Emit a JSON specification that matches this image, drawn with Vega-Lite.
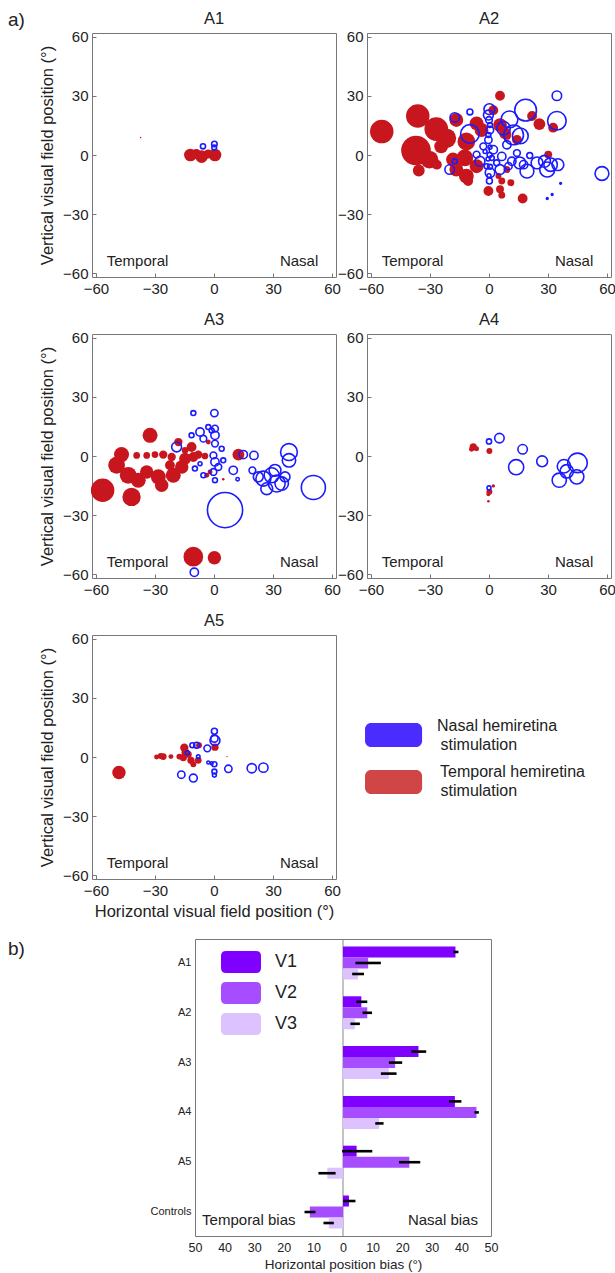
{
  "$schema": "https://vega.github.io/schema/vega-lite/v6.json",
  "background": "white",
  "padding": {"left": 8, "top": 10, "right": 0, "bottom": 0},
  "title": {"text": "a)", "anchor": "start", "frame": "bounds", "fontSize": 19, "fontWeight": "normal", "color": "#222", "offset": 0, "dy": 19},
  "config": {
    "font": "Liberation Sans",
    "view": {"stroke": "#777", "strokeWidth": 1},
    "axis": {"grid": false, "domain": false, "labelColor": "#222", "titleColor": "#222", "titleFontWeight": "normal", "labelFontSize": 15, "titleFontSize": 16.5, "tickColor": "#777", "tickSize": -4, "labelPadding": 8, "labelFlush": false, "labelOverlap": false},
    "title": {"fontSize": 16.5, "fontWeight": "normal", "color": "#222", "offset": 2}
  },
  "resolve": {"scale": {"color": "independent", "size": "independent"}, "legend": {"color": "independent", "size": "independent"}},
  "datasets": {
    "pts": [
      {"p":"A1","h":"T","x":-37.3,"y":8.9,"d":0.8},
      {"p":"A1","h":"T","x":-12,"y":0,"d":6.4},
      {"p":"A1","h":"T","x":-9,"y":0.5,"d":5},
      {"p":"A1","h":"T","x":-6.3,"y":-0.8,"d":6.4},
      {"p":"A1","h":"T","x":-3,"y":0.5,"d":4.5},
      {"p":"A1","h":"T","x":0.5,"y":0,"d":6.4},
      {"p":"A1","h":"N","x":-5.6,"y":4.4,"d":2.6},
      {"p":"A1","h":"N","x":0.2,"y":5.6,"d":2.8},
      {"p":"A1","h":"N","x":0.1,"y":3.8,"d":2.4},

      {"p":"A2","h":"T","x":-54.5,"y":11.9,"d":11.9},
      {"p":"A2","h":"T","x":-36.2,"y":19.8,"d":11.9},
      {"p":"A2","h":"T","x":-37.1,"y":2.3,"d":15},
      {"p":"A2","h":"T","x":-26.8,"y":13.2,"d":12},
      {"p":"A2","h":"T","x":-30.3,"y":-2.3,"d":9},
      {"p":"A2","h":"T","x":-35.7,"y":-7.9,"d":6},
      {"p":"A2","h":"T","x":-26.5,"y":-4.9,"d":5},
      {"p":"A2","h":"T","x":-21.7,"y":8.5,"d":10},
      {"p":"A2","h":"T","x":-24.3,"y":4.4,"d":7},
      {"p":"A2","h":"T","x":-16.6,"y":17.8,"d":7},
      {"p":"A2","h":"T","x":-18.3,"y":-2.3,"d":7},
      {"p":"A2","h":"T","x":-16.6,"y":-7.4,"d":7},
      {"p":"A2","h":"T","x":-11.5,"y":6.9,"d":9},
      {"p":"A2","h":"T","x":-12.3,"y":-1.5,"d":8.5},
      {"p":"A2","h":"T","x":-11.5,"y":-10.7,"d":7.5},
      {"p":"A2","h":"T","x":-10.6,"y":-13.2,"d":5},
      {"p":"A2","h":"T","x":-6.3,"y":-5.7,"d":7},
      {"p":"A2","h":"T","x":-6.3,"y":16.1,"d":7},
      {"p":"A2","h":"T","x":-3.8,"y":12.7,"d":7},
      {"p":"A2","h":"T","x":5.6,"y":30.1,"d":5},
      {"p":"A2","h":"T","x":5.6,"y":15.2,"d":7},
      {"p":"A2","h":"T","x":8.2,"y":11,"d":6},
      {"p":"A2","h":"T","x":2.2,"y":22.8,"d":5},
      {"p":"A2","h":"T","x":-0.3,"y":-18.3,"d":5},
      {"p":"A2","h":"T","x":5.6,"y":-17.4,"d":4},
      {"p":"A2","h":"T","x":6.5,"y":-13.2,"d":3.5},
      {"p":"A2","h":"T","x":6.5,"y":-20.4,"d":3.5},
      {"p":"A2","h":"T","x":11.1,"y":-14.1,"d":3.5},
      {"p":"A2","h":"T","x":17.1,"y":-22.1,"d":5},
      {"p":"A2","h":"T","x":21.9,"y":19.8,"d":5},
      {"p":"A2","h":"T","x":25.6,"y":15.7,"d":6},
      {"p":"A2","h":"T","x":32.6,"y":13.9,"d":5},
      {"p":"A2","h":"T","x":30.1,"y":0.2,"d":4},
      {"p":"A2","h":"T","x":9.1,"y":9.7,"d":4},
      {"p":"A2","h":"T","x":14.2,"y":7.7,"d":5},
      {"p":"A2","h":"T","x":9.1,"y":-7.4,"d":3.5},
      {"p":"A2","h":"T","x":4.8,"y":-10.7,"d":3},
      {"p":"A2","h":"N","x":57.4,"y":-9.4,"d":7},
      {"p":"A2","h":"N","x":34.5,"y":30.1,"d":4.8},
      {"p":"A2","h":"N","x":34.5,"y":17.4,"d":9.4},
      {"p":"A2","h":"N","x":18.6,"y":22.8,"d":11},
      {"p":"A2","h":"N","x":10.4,"y":18.1,"d":8.5},
      {"p":"A2","h":"N","x":12.5,"y":10.2,"d":10},
      {"p":"A2","h":"N","x":15.9,"y":9.7,"d":8},
      {"p":"A2","h":"N","x":-9.7,"y":10.7,"d":9.4},
      {"p":"A2","h":"N","x":-9.7,"y":21.9,"d":3},
      {"p":"A2","h":"N","x":-17.4,"y":19.1,"d":4.8},
      {"p":"A2","h":"N","x":-20,"y":-7.4,"d":4.8},
      {"p":"A2","h":"N","x":-17.4,"y":-3.2,"d":2.5},
      {"p":"A2","h":"N","x":0.2,"y":23.3,"d":5.5},
      {"p":"A2","h":"N","x":-0.3,"y":20.3,"d":5},
      {"p":"A2","h":"N","x":0,"y":17.8,"d":3.4},
      {"p":"A2","h":"N","x":35,"y":-4.9,"d":6},
      {"p":"A2","h":"N","x":28.2,"y":-3.2,"d":6},
      {"p":"A2","h":"N","x":24.4,"y":-4,"d":6},
      {"p":"A2","h":"N","x":29.6,"y":-7.4,"d":7.6},
      {"p":"A2","h":"N","x":31.3,"y":-4.9,"d":6.8},
      {"p":"A2","h":"N","x":19.3,"y":-8.2,"d":7},
      {"p":"A2","h":"N","x":15.6,"y":-4,"d":6},
      {"p":"A2","h":"N","x":11.6,"y":-3.2,"d":4.2},
      {"p":"A2","h":"N","x":20.7,"y":-0.3,"d":3},
      {"p":"A2","h":"N","x":5.6,"y":-7.4,"d":5},
      {"p":"A2","h":"N","x":-4.6,"y":-3.2,"d":5},
      {"p":"A2","h":"N","x":0.5,"y":-9,"d":4.8},
      {"p":"A2","h":"N","x":0.2,"y":-13.2,"d":3},
      {"p":"A2","h":"N","x":2.2,"y":2.7,"d":4.2},
      {"p":"A2","h":"N","x":6.5,"y":-0.7,"d":4.2},
      {"p":"A2","h":"N","x":-2.9,"y":4.4,"d":3.4},
      {"p":"A2","h":"N","x":-0.3,"y":7.7,"d":3.7},
      {"p":"A2","h":"N","x":0.5,"y":12.7,"d":3.7},
      {"p":"A2","h":"N","x":7.4,"y":13.6,"d":6.8},
      {"p":"A2","h":"N","x":9.1,"y":5.2,"d":4.2},
      {"p":"A2","h":"N","x":14.2,"y":1,"d":3.4},
      {"p":"A2","h":"N","x":-6.3,"y":0.2,"d":3.4},
      {"p":"A2","h":"N","x":36.4,"y":-14.4,"d":0.9},
      {"p":"A2","h":"N","x":32.1,"y":-20.1,"d":0.9},
      {"p":"A2","h":"N","x":29.6,"y":-22.1,"d":0.9},
      {"p":"A2","h":"N","x":3.9,"y":-4,"d":3},
      {"p":"A2","h":"N","x":-1.2,"y":-5.7,"d":2.5},
      {"p":"A2","h":"N","x":1.4,"y":-1.5,"d":2.5},
      {"p":"A2","h":"N","x":-2,"y":1.8,"d":2},
      {"p":"A2","h":"N","x":9.9,"y":-5.7,"d":3.7},
      {"p":"A2","h":"N","x":17.6,"y":-4.9,"d":4.2},
      {"p":"A2","h":"N","x":-0.3,"y":10.2,"d":2.5},
      {"p":"A2","h":"N","x":0.5,"y":15.2,"d":2.5},
      {"p":"A2","h":"N","x":0,"y":-10.5,"d":2},
      {"p":"A2","h":"N","x":0.5,"y":-6,"d":2.5},
      {"p":"A2","h":"N","x":-0.5,"y":-2,"d":2},
      {"p":"A2","h":"N","x":0.3,"y":0,"d":2.5},
      {"p":"A2","h":"N","x":0.5,"y":4,"d":2},

      {"p":"A3","h":"T","x":-56.6,"y":-17.4,"d":11.9},
      {"p":"A3","h":"T","x":-41.9,"y":-20.8,"d":9.3},
      {"p":"A3","h":"T","x":-32.5,"y":10.5,"d":7.6},
      {"p":"A3","h":"T","x":-47,"y":0.7,"d":7.6},
      {"p":"A3","h":"T","x":-49.5,"y":-4.7,"d":8.5},
      {"p":"A3","h":"T","x":-43.6,"y":-9.8,"d":8.5},
      {"p":"A3","h":"T","x":-38.5,"y":-12.3,"d":7.6},
      {"p":"A3","h":"T","x":-34.2,"y":-8.1,"d":6.8},
      {"p":"A3","h":"T","x":-28.3,"y":-10.6,"d":7.6},
      {"p":"A3","h":"T","x":-26.6,"y":-14.9,"d":6.8},
      {"p":"A3","h":"T","x":-20.7,"y":-9.8,"d":7.6},
      {"p":"A3","h":"T","x":-22.4,"y":-4.7,"d":5},
      {"p":"A3","h":"T","x":-16.4,"y":-5.6,"d":6.8},
      {"p":"A3","h":"T","x":-14.7,"y":-1.4,"d":6},
      {"p":"A3","h":"T","x":-11.4,"y":4.6,"d":5},
      {"p":"A3","h":"T","x":-18.1,"y":7.1,"d":4.2},
      {"p":"A3","h":"T","x":-39.3,"y":0.3,"d":3.4},
      {"p":"A3","h":"T","x":-34.2,"y":0.3,"d":3.4},
      {"p":"A3","h":"T","x":-30,"y":0.7,"d":3.4},
      {"p":"A3","h":"T","x":-25.8,"y":0.7,"d":4.2},
      {"p":"A3","h":"T","x":-21.5,"y":-0.5,"d":4.2},
      {"p":"A3","h":"T","x":-8,"y":0.7,"d":4.2},
      {"p":"A3","h":"T","x":-4.6,"y":0,"d":3.4},
      {"p":"A3","h":"T","x":-10.5,"y":-0.5,"d":5},
      {"p":"A3","h":"T","x":12.4,"y":0.7,"d":6},
      {"p":"A3","h":"T","x":-10.5,"y":-51.2,"d":10},
      {"p":"A3","h":"T","x":0.2,"y":-51.7,"d":6.8},
      {"p":"A3","h":"T","x":4.7,"y":-11.8,"d":1.3},
      {"p":"A3","h":"T","x":-2,"y":-8.1,"d":2.5},
      {"p":"A3","h":"T","x":-3.7,"y":-9.8,"d":2.5},
      {"p":"A3","h":"T","x":-2.9,"y":7.1,"d":2.5},
      {"p":"A3","h":"T","x":-14.7,"y":2.9,"d":3.4},
      {"p":"A3","h":"N","x":5.6,"y":-27.5,"d":17.8},
      {"p":"A3","h":"N","x":50.5,"y":-16,"d":12.2},
      {"p":"A3","h":"N","x":38.1,"y":2,"d":8.5},
      {"p":"A3","h":"N","x":38.1,"y":-2.2,"d":6.8},
      {"p":"A3","h":"N","x":31.9,"y":-14,"d":8.5},
      {"p":"A3","h":"N","x":29.3,"y":-9.8,"d":7.6},
      {"p":"A3","h":"N","x":25.1,"y":-11.5,"d":7.6},
      {"p":"A3","h":"N","x":22.5,"y":-10.6,"d":5},
      {"p":"A3","h":"N","x":31,"y":-7.3,"d":6},
      {"p":"A3","h":"N","x":36.1,"y":-10.6,"d":5},
      {"p":"A3","h":"N","x":34.4,"y":-14,"d":6.8},
      {"p":"A3","h":"N","x":26.8,"y":-16.6,"d":6},
      {"p":"A3","h":"N","x":19.5,"y":-7.3,"d":3.4},
      {"p":"A3","h":"N","x":20.3,"y":0.3,"d":4.2},
      {"p":"A3","h":"N","x":14.9,"y":0.7,"d":4.2},
      {"p":"A3","h":"N","x":9.8,"y":-7.3,"d":4.2},
      {"p":"A3","h":"N","x":12,"y":-11.8,"d":1.7},
      {"p":"A3","h":"N","x":-10.5,"y":21.8,"d":2.5},
      {"p":"A3","h":"N","x":0.2,"y":21.8,"d":3.7},
      {"p":"A3","h":"N","x":-19,"y":4.6,"d":5},
      {"p":"A3","h":"N","x":-7.1,"y":12.2,"d":4.2},
      {"p":"A3","h":"N","x":-11.4,"y":10.5,"d":2.5},
      {"p":"A3","h":"N","x":-5.4,"y":8.8,"d":3.4},
      {"p":"A3","h":"N","x":0.5,"y":13.9,"d":3.4},
      {"p":"A3","h":"N","x":0.5,"y":10.5,"d":4.2},
      {"p":"A3","h":"N","x":-2.9,"y":14.7,"d":2.5},
      {"p":"A3","h":"N","x":0.5,"y":6.3,"d":3.4},
      {"p":"A3","h":"N","x":-0.3,"y":0.3,"d":3.4},
      {"p":"A3","h":"N","x":0.5,"y":-3,"d":4.2},
      {"p":"A3","h":"N","x":2.2,"y":-5.6,"d":3.4},
      {"p":"A3","h":"N","x":-0.3,"y":-8.1,"d":3.4},
      {"p":"A3","h":"N","x":-5.4,"y":-9.8,"d":2.5},
      {"p":"A3","h":"N","x":0.5,"y":-12.3,"d":2.5},
      {"p":"A3","h":"N","x":3.9,"y":3.7,"d":2.5},
      {"p":"A3","h":"N","x":-9.7,"y":-6.4,"d":2.5},
      {"p":"A3","h":"N","x":-7.1,"y":-3.9,"d":2},
      {"p":"A3","h":"N","x":-10,"y":-59.1,"d":4.2},
      {"p":"A3","h":"N","x":4.7,"y":-2.2,"d":2.5},
      {"p":"A3","h":"N","x":-1.2,"y":13,"d":2.5},

      {"p":"A4","h":"T","x":-8,"y":4.6,"d":3.7},
      {"p":"A4","h":"T","x":-6.3,"y":3.7,"d":2.5},
      {"p":"A4","h":"T","x":-8.9,"y":3.4,"d":2.5},
      {"p":"A4","h":"T","x":0.2,"y":2.5,"d":3},
      {"p":"A4","h":"T","x":0.2,"y":-18.2,"d":3},
      {"p":"A4","h":"T","x":-0.3,"y":-19.4,"d":2},
      {"p":"A4","h":"T","x":2.2,"y":-15.2,"d":1.7},
      {"p":"A4","h":"T","x":-0.3,"y":-23,"d":1.3},
      {"p":"A4","h":"N","x":0,"y":7.4,"d":2.6},
      {"p":"A4","h":"N","x":5.3,"y":9.1,"d":4.8},
      {"p":"A4","h":"N","x":17.1,"y":3.4,"d":4.8},
      {"p":"A4","h":"N","x":13.8,"y":-5.7,"d":7.7},
      {"p":"A4","h":"N","x":27,"y":-2.7,"d":5.5},
      {"p":"A4","h":"N","x":45,"y":-3.5,"d":9.9},
      {"p":"A4","h":"N","x":38.1,"y":-5.2,"d":6.8},
      {"p":"A4","h":"N","x":39.5,"y":-7.8,"d":6.8},
      {"p":"A4","h":"N","x":44.6,"y":-10.6,"d":7.2},
      {"p":"A4","h":"N","x":35.7,"y":-12.3,"d":7.2},
      {"p":"A4","h":"N","x":0,"y":-16.2,"d":2},

      {"p":"A5","h":"T","x":-48.3,"y":-7.9,"d":6.8},
      {"p":"A5","h":"T","x":-29.2,"y":0,"d":2.5},
      {"p":"A5","h":"T","x":-27.1,"y":0.5,"d":3},
      {"p":"A5","h":"T","x":-25.8,"y":0.2,"d":3.4},
      {"p":"A5","h":"T","x":-21.9,"y":0.2,"d":2.5},
      {"p":"A5","h":"T","x":-17.6,"y":0.2,"d":3},
      {"p":"A5","h":"T","x":-15.1,"y":4.7,"d":4.2},
      {"p":"A5","h":"T","x":-14.4,"y":2.2,"d":4.2},
      {"p":"A5","h":"T","x":-15.6,"y":-0.3,"d":3.7},
      {"p":"A5","h":"T","x":-11.7,"y":-1.7,"d":3.7},
      {"p":"A5","h":"T","x":-10.5,"y":-3.7,"d":3},
      {"p":"A5","h":"T","x":-8,"y":-1.7,"d":3.4},
      {"p":"A5","h":"T","x":-7.6,"y":6,"d":3},
      {"p":"A5","h":"T","x":0.5,"y":5,"d":3.7},
      {"p":"A5","h":"T","x":6.6,"y":0.2,"d":0.7},
      {"p":"A5","h":"T","x":-13,"y":1.3,"d":3.4},
      {"p":"A5","h":"N","x":-16.6,"y":-9,"d":3.7},
      {"p":"A5","h":"N","x":-10.5,"y":-10.7,"d":4},
      {"p":"A5","h":"N","x":7.3,"y":-6,"d":3.7},
      {"p":"A5","h":"N","x":19.2,"y":-5.7,"d":4.7},
      {"p":"A5","h":"N","x":25.1,"y":-5.4,"d":4.7},
      {"p":"A5","h":"N","x":0.2,"y":13.1,"d":3},
      {"p":"A5","h":"N","x":0.5,"y":8.4,"d":5},
      {"p":"A5","h":"N","x":0.2,"y":9.4,"d":3.7},
      {"p":"A5","h":"N","x":-3.4,"y":4.4,"d":3.4},
      {"p":"A5","h":"N","x":-8.8,"y":6,"d":3},
      {"p":"A5","h":"N","x":-11,"y":6,"d":2.5},
      {"p":"A5","h":"N","x":-13.6,"y":2.2,"d":2},
      {"p":"A5","h":"N","x":0.2,"y":-3.7,"d":2.5},
      {"p":"A5","h":"N","x":0.2,"y":-7.4,"d":2.5},
      {"p":"A5","h":"N","x":0.2,"y":-9.2,"d":2},
      {"p":"A5","h":"N","x":-2.9,"y":-2.8,"d":1.5},
      {"p":"A5","h":"N","x":-8,"y":0.2,"d":1.8},
      {"p":"A5","h":"N","x":-1.2,"y":-3.2,"d":1.5}
    ],
    "corner": [
      {"t": "Temporal", "x": -54.5, "y": -54},
      {"t": "Nasal", "x": 53, "y": -54}
    ],
    "legbox": [
      {"k": "Nasal", "x": -63, "x2": -34, "y": 17.3, "y2": 5.1},
      {"k": "Temporal", "x": -63, "x2": -34, "y": -6.6, "y2": -18.8}
    ],
    "legtxt": [
      {"t": "Nasal hemiretina", "x": -26.4, "y": 15.7},
      {"t": "stimulation", "x": -24.6, "y": 6.1},
      {"t": "Temporal hemiretina", "x": -24.9, "y": -7.6},
      {"t": "stimulation", "x": -24.6, "y": -17.3}
    ],
    "bars": [
      {"cat": "A1", "v": "V1", "val": 38, "lo": 37.3, "hi": 39},
      {"cat": "A1", "v": "V2", "val": 8.5, "lo": 4.2, "hi": 12.8},
      {"cat": "A1", "v": "V3", "val": 5.1, "lo": 3.1, "hi": 7.1},
      {"cat": "A2", "v": "V1", "val": 6.2, "lo": 4.5, "hi": 8.2},
      {"cat": "A2", "v": "V2", "val": 8.2, "lo": 6.6, "hi": 9.8},
      {"cat": "A2", "v": "V3", "val": 4.0, "lo": 2.5, "hi": 5.7},
      {"cat": "A3", "v": "V1", "val": 25.5, "lo": 23.1, "hi": 28.1},
      {"cat": "A3", "v": "V2", "val": 17.6, "lo": 15.5, "hi": 20.0},
      {"cat": "A3", "v": "V3", "val": 15.5, "lo": 12.8, "hi": 18.1},
      {"cat": "A4", "v": "V1", "val": 37.8, "lo": 35.8, "hi": 40.0},
      {"cat": "A4", "v": "V2", "val": 45.1, "lo": 44.4, "hi": 45.9},
      {"cat": "A4", "v": "V3", "val": 12.2, "lo": 10.9, "hi": 13.7},
      {"cat": "A5", "v": "V1", "val": 4.6, "lo": -0.3, "hi": 9.9},
      {"cat": "A5", "v": "V2", "val": 22.4, "lo": 18.9, "hi": 26.1},
      {"cat": "A5", "v": "V3", "val": -5.3, "lo": -8.3, "hi": -2.5},
      {"cat": "Controls", "v": "V1", "val": 2.0, "lo": 0.1, "hi": 4.2},
      {"cat": "Controls", "v": "V2", "val": -11.2, "lo": -13.0, "hi": -9.3},
      {"cat": "Controls", "v": "V3", "val": -4.8, "lo": -6.6, "hi": -3.1}
    ],
    "bartxt": [
      {"t": "Temporal bias", "x": -47.6, "cat": "Controls"},
      {"t": "Nasal bias", "x": 45.6, "cat": "Controls"}
    ]
  },
  "vconcat": [
    {
      "concat": [
        {
          "width": 244, "height": 244,
          "title": {"text": "A1"},
          "encoding": {
            "x": {"field": "x", "type": "quantitative", "scale": {"domain": [-62, 62], "nice": false, "zero": false}, "axis": {"values": [-60, -30, 0, 30, 60], "title": null}},
            "y": {"field": "y", "type": "quantitative", "scale": {"domain": [-62, 62], "nice": false, "zero": false}, "axis": {"values": [-60, -30, 0, 30, 60], "title": "Vertical visual field position (°)", "titlePadding": 7}}
          },
          "layer": [
            {"data": {"name": "pts"}, "transform": [{"filter": "datum.p == 'A1' && datum.h == 'T'"}],
             "mark": {"type": "point", "shape": "circle", "filled": true, "color": "#c8161e", "opacity": 1, "strokeWidth": 0},
             "encoding": {"size": {"field": "d", "type": "quantitative", "scale": {"type": "pow", "exponent": 2, "domain": [0, 20], "range": [0, 1560]}, "legend": null}}},
            {"data": {"name": "pts"}, "transform": [{"filter": "datum.p == 'A1' && datum.h == 'N'"}],
             "mark": {"type": "point", "shape": "circle", "filled": false, "stroke": "#1b1bff", "strokeWidth": 1.6, "opacity": 1},
             "encoding": {"size": {"field": "d", "type": "quantitative", "scale": {"type": "pow", "exponent": 2, "domain": [0, 20], "range": [0, 1560]}, "legend": null}}},
            {"data": {"name": "corner"}, "transform": [{"filter": "datum.t == 'Temporal'"}],
             "mark": {"type": "text", "align": "left", "baseline": "middle", "fontSize": 15, "color": "#222"},
             "encoding": {"text": {"field": "t"}}},
            {"data": {"name": "corner"}, "transform": [{"filter": "datum.t == 'Nasal'"}],
             "mark": {"type": "text", "align": "right", "baseline": "middle", "fontSize": 15, "color": "#222"},
             "encoding": {"text": {"field": "t"}}}
          ]
        },
        {
          "width": 244, "height": 244,
          "title": {"text": "A2"},
          "encoding": {
            "x": {"field": "x", "type": "quantitative", "scale": {"domain": [-62, 62], "nice": false, "zero": false}, "axis": {"values": [-60, -30, 0, 30, 60], "title": null}},
            "y": {"field": "y", "type": "quantitative", "scale": {"domain": [-62, 62], "nice": false, "zero": false}, "axis": {"values": [-60, -30, 0, 30, 60], "title": null}}
          },
          "layer": [
            {"data": {"name": "pts"}, "transform": [{"filter": "datum.p == 'A2' && datum.h == 'T'"}],
             "mark": {"type": "point", "shape": "circle", "filled": true, "color": "#c8161e", "opacity": 1, "strokeWidth": 0},
             "encoding": {"size": {"field": "d", "type": "quantitative", "scale": {"type": "pow", "exponent": 2, "domain": [0, 20], "range": [0, 1560]}, "legend": null}}},
            {"data": {"name": "pts"}, "transform": [{"filter": "datum.p == 'A2' && datum.h == 'N'"}],
             "mark": {"type": "point", "shape": "circle", "filled": false, "stroke": "#1b1bff", "strokeWidth": 1.6, "opacity": 1},
             "encoding": {"size": {"field": "d", "type": "quantitative", "scale": {"type": "pow", "exponent": 2, "domain": [0, 20], "range": [0, 1560]}, "legend": null}}},
            {"data": {"name": "corner"}, "transform": [{"filter": "datum.t == 'Temporal'"}],
             "mark": {"type": "text", "align": "left", "baseline": "middle", "fontSize": 15, "color": "#222"},
             "encoding": {"text": {"field": "t"}}},
            {"data": {"name": "corner"}, "transform": [{"filter": "datum.t == 'Nasal'"}],
             "mark": {"type": "text", "align": "right", "baseline": "middle", "fontSize": 15, "color": "#222"},
             "encoding": {"text": {"field": "t"}}}
          ]
        },
        {
          "width": 244, "height": 244,
          "title": {"text": "A3"},
          "encoding": {
            "x": {"field": "x", "type": "quantitative", "scale": {"domain": [-62, 62], "nice": false, "zero": false}, "axis": {"values": [-60, -30, 0, 30, 60], "title": null}},
            "y": {"field": "y", "type": "quantitative", "scale": {"domain": [-62, 62], "nice": false, "zero": false}, "axis": {"values": [-60, -30, 0, 30, 60], "title": "Vertical visual field position (°)", "titlePadding": 7}}
          },
          "layer": [
            {"data": {"name": "pts"}, "transform": [{"filter": "datum.p == 'A3' && datum.h == 'T'"}],
             "mark": {"type": "point", "shape": "circle", "filled": true, "color": "#c8161e", "opacity": 1, "strokeWidth": 0},
             "encoding": {"size": {"field": "d", "type": "quantitative", "scale": {"type": "pow", "exponent": 2, "domain": [0, 20], "range": [0, 1560]}, "legend": null}}},
            {"data": {"name": "pts"}, "transform": [{"filter": "datum.p == 'A3' && datum.h == 'N'"}],
             "mark": {"type": "point", "shape": "circle", "filled": false, "stroke": "#1b1bff", "strokeWidth": 1.6, "opacity": 1},
             "encoding": {"size": {"field": "d", "type": "quantitative", "scale": {"type": "pow", "exponent": 2, "domain": [0, 20], "range": [0, 1560]}, "legend": null}}},
            {"data": {"name": "corner"}, "transform": [{"filter": "datum.t == 'Temporal'"}],
             "mark": {"type": "text", "align": "left", "baseline": "middle", "fontSize": 15, "color": "#222"},
             "encoding": {"text": {"field": "t"}}},
            {"data": {"name": "corner"}, "transform": [{"filter": "datum.t == 'Nasal'"}],
             "mark": {"type": "text", "align": "right", "baseline": "middle", "fontSize": 15, "color": "#222"},
             "encoding": {"text": {"field": "t"}}}
          ]
        },
        {
          "width": 244, "height": 244,
          "title": {"text": "A4"},
          "encoding": {
            "x": {"field": "x", "type": "quantitative", "scale": {"domain": [-62, 62], "nice": false, "zero": false}, "axis": {"values": [-60, -30, 0, 30, 60], "title": null}},
            "y": {"field": "y", "type": "quantitative", "scale": {"domain": [-62, 62], "nice": false, "zero": false}, "axis": {"values": [-60, -30, 0, 30, 60], "title": null}}
          },
          "layer": [
            {"data": {"name": "pts"}, "transform": [{"filter": "datum.p == 'A4' && datum.h == 'T'"}],
             "mark": {"type": "point", "shape": "circle", "filled": true, "color": "#c8161e", "opacity": 1, "strokeWidth": 0},
             "encoding": {"size": {"field": "d", "type": "quantitative", "scale": {"type": "pow", "exponent": 2, "domain": [0, 20], "range": [0, 1560]}, "legend": null}}},
            {"data": {"name": "pts"}, "transform": [{"filter": "datum.p == 'A4' && datum.h == 'N'"}],
             "mark": {"type": "point", "shape": "circle", "filled": false, "stroke": "#1b1bff", "strokeWidth": 1.6, "opacity": 1},
             "encoding": {"size": {"field": "d", "type": "quantitative", "scale": {"type": "pow", "exponent": 2, "domain": [0, 20], "range": [0, 1560]}, "legend": null}}},
            {"data": {"name": "corner"}, "transform": [{"filter": "datum.t == 'Temporal'"}],
             "mark": {"type": "text", "align": "left", "baseline": "middle", "fontSize": 15, "color": "#222"},
             "encoding": {"text": {"field": "t"}}},
            {"data": {"name": "corner"}, "transform": [{"filter": "datum.t == 'Nasal'"}],
             "mark": {"type": "text", "align": "right", "baseline": "middle", "fontSize": 15, "color": "#222"},
             "encoding": {"text": {"field": "t"}}}
          ]
        },
        {
          "width": 244, "height": 244,
          "title": {"text": "A5"},
          "encoding": {
            "x": {"field": "x", "type": "quantitative", "scale": {"domain": [-62, 62], "nice": false, "zero": false}, "axis": {"values": [-60, -30, 0, 30, 60], "title": "Horizontal visual field position (°)", "titlePadding": 5}},
            "y": {"field": "y", "type": "quantitative", "scale": {"domain": [-62, 62], "nice": false, "zero": false}, "axis": {"values": [-60, -30, 0, 30, 60], "title": "Vertical visual field position (°)", "titlePadding": 7}}
          },
          "layer": [
            {"data": {"name": "pts"}, "transform": [{"filter": "datum.p == 'A5' && datum.h == 'T'"}],
             "mark": {"type": "point", "shape": "circle", "filled": true, "color": "#c8161e", "opacity": 1, "strokeWidth": 0},
             "encoding": {"size": {"field": "d", "type": "quantitative", "scale": {"type": "pow", "exponent": 2, "domain": [0, 20], "range": [0, 1560]}, "legend": null}}},
            {"data": {"name": "pts"}, "transform": [{"filter": "datum.p == 'A5' && datum.h == 'N'"}],
             "mark": {"type": "point", "shape": "circle", "filled": false, "stroke": "#1b1bff", "strokeWidth": 1.6, "opacity": 1},
             "encoding": {"size": {"field": "d", "type": "quantitative", "scale": {"type": "pow", "exponent": 2, "domain": [0, 20], "range": [0, 1560]}, "legend": null}}},
            {"data": {"name": "corner"}, "transform": [{"filter": "datum.t == 'Temporal'"}],
             "mark": {"type": "text", "align": "left", "baseline": "middle", "fontSize": 15, "color": "#222"},
             "encoding": {"text": {"field": "t"}}},
            {"data": {"name": "corner"}, "transform": [{"filter": "datum.t == 'Nasal'"}],
             "mark": {"type": "text", "align": "right", "baseline": "middle", "fontSize": 15, "color": "#222"},
             "encoding": {"text": {"field": "t"}}}
          ]
        },
        {
          "width": 244, "height": 244,
          "view": {"stroke": null},
          "encoding": {
            "x": {"field": "x", "type": "quantitative", "scale": {"domain": [-62, 62], "nice": false, "zero": false}, "axis": null},
            "y": {"field": "y", "type": "quantitative", "scale": {"domain": [-62, 62], "nice": false, "zero": false}, "axis": null}
          },
          "layer": [
            {"data": {"name": "legbox"}, "transform": [{"filter": "datum.k == 'Nasal'"}],
             "mark": {"type": "rect", "cornerRadius": 6, "color": "#4a2cff"},
             "encoding": {"x2": {"field": "x2"}, "y2": {"field": "y2"}}},
            {"data": {"name": "legbox"}, "transform": [{"filter": "datum.k == 'Temporal'"}],
             "mark": {"type": "rect", "cornerRadius": 6, "color": "#d04545"},
             "encoding": {"x2": {"field": "x2"}, "y2": {"field": "y2"}}},
            {"data": {"name": "legtxt"},
             "mark": {"type": "text", "align": "left", "baseline": "middle", "fontSize": 16, "color": "#222"},
             "encoding": {"text": {"field": "t"}}}
          ]
        }
      ],
      "columns": 2,
      "align": "each",
      "spacing": {"row": 14, "column": -4}
    },
    {
      "hconcat": [
        {
          "width": 10, "height": 30,
          "view": {"stroke": null},
          "data": {"values": [{"t": "b)", "x": -84, "y": 20}]},
          "mark": {"type": "text", "align": "left", "baseline": "middle", "fontSize": 19, "color": "#222"},
          "encoding": {
            "x": {"field": "x", "type": "quantitative", "scale": {"domain": [0, 10]}, "axis": null},
            "y": {"field": "y", "type": "quantitative", "scale": {"domain": [0, 30]}, "axis": null},
            "text": {"field": "t"}
          }
        },
        {
          "width": 296, "height": 297,
          "layer": [
            {"data": {"values": [{"z": 0}]},
             "mark": {"type": "rule", "color": "#888", "strokeWidth": 1},
             "encoding": {"x": {"field": "z", "type": "quantitative", "scale": {"domain": [-50, 50], "nice": false}, "axis": {"values": [-50, -40, -30, -20, -10, 0, 10, 20, 30, 40, 50], "tickCount": 20, "labelExpr": "format(abs(datum.value), 'd')", "labelOverlap": false, "title": "Horizontal position bias (°)", "ticks": false, "labelFontSize": 12.5, "titleFontSize": 13.5, "labelPadding": 5, "titlePadding": 4}}}},
            {"data": {"name": "bars"},
             "mark": {"type": "bar"},
             "encoding": {
               "x": {"field": "val", "type": "quantitative", "scale": {"domain": [-50, 50], "nice": false}, "axis": {"values": [-50, -40, -30, -20, -10, 0, 10, 20, 30, 40, 50], "tickCount": 20, "labelExpr": "format(abs(datum.value), 'd')", "labelOverlap": false, "title": "Horizontal position bias (°)", "ticks": false, "labelFontSize": 12.5, "titleFontSize": 13.5, "labelPadding": 5, "titlePadding": 4}},
               "y": {"field": "cat", "type": "nominal", "sort": ["A1", "A2", "A3", "A4", "A5", "Controls"], "scale": {"paddingInner": 0.337, "paddingOuter": 0.15}, "axis": {"title": null, "ticks": false, "labelFontSize": 11, "labelPadding": 4}},
               "yOffset": {"field": "v", "type": "nominal", "sort": ["V1", "V2", "V3"], "scale": {"paddingInner": 0, "paddingOuter": 0}},
               "color": {"field": "v", "type": "nominal", "scale": {"domain": ["V1", "V2", "V3"], "range": ["#7f00ff", "#a64dff", "#dcc2ff"]},
                         "legend": {"title": null, "orient": "none", "legendX": 26, "legendY": 3, "symbolType": "M-0.75,-0.55L0.75,-0.55Q1,-0.55,1,-0.3L1,0.3Q1,0.55,0.75,0.55L-0.75,0.55Q-1,0.55,-1,0.3L-1,-0.3Q-1,-0.55,-0.75,-0.55Z", "symbolSize": 1600, "symbolStrokeWidth": 0, "symbolOpacity": 1, "labelFontSize": 18, "labelColor": "#222", "labelOffset": 14, "rowPadding": -2.5}}
             }},
            {"data": {"name": "bars"},
             "mark": {"type": "rule", "color": "#000", "strokeWidth": 2.6},
             "encoding": {
               "x": {"field": "lo", "type": "quantitative"},
               "x2": {"field": "hi"},
               "y": {"field": "cat", "type": "nominal", "sort": ["A1", "A2", "A3", "A4", "A5", "Controls"]},
               "yOffset": {"field": "v", "type": "nominal", "sort": ["V1", "V2", "V3"]}
             }},
            {"data": {"name": "bartxt"}, "transform": [{"filter": "datum.t == 'Temporal bias'"}],
             "mark": {"type": "text", "align": "left", "baseline": "middle", "fontSize": 15, "dy": 8, "color": "#222"},
             "encoding": {"x": {"field": "x", "type": "quantitative"}, "y": {"field": "cat", "type": "nominal", "sort": ["A1", "A2", "A3", "A4", "A5", "Controls"]}, "text": {"field": "t"}}},
            {"data": {"name": "bartxt"}, "transform": [{"filter": "datum.t == 'Nasal bias'"}],
             "mark": {"type": "text", "align": "right", "baseline": "middle", "fontSize": 15, "dy": 8, "color": "#222"},
             "encoding": {"x": {"field": "x", "type": "quantitative"}, "y": {"field": "cat", "type": "nominal", "sort": ["A1", "A2", "A3", "A4", "A5", "Controls"]}, "text": {"field": "t"}}}
          ]
        }
      ],
      "resolve": {"scale": {"color": "independent"}, "legend": {"color": "independent"}},
      "spacing": 47
    }
  ],
  "spacing": 18
}
